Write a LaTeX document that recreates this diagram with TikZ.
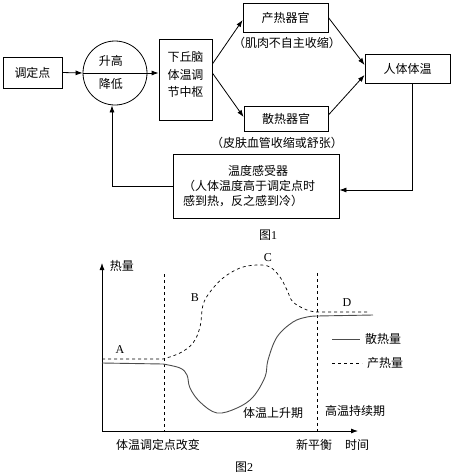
\documentclass[tikz,border=0pt]{standalone}
\usepackage{fontspec}
\setmainfont{Liberation Serif}
\newfontfamily\cjk{Noto Sans CJK SC}
\usetikzlibrary{arrows.meta}

\begin{document}
\begin{tikzpicture}[x=1pt,y=-1pt,>={Latex[length=7pt,width=5pt]},line width=0.8pt,
	font=\cjk\fontsize{12}{15}\selectfont,
	box/.style={draw,inner sep=0pt},
	txt/.style={inner sep=0pt},
	letter/.style={inner sep=0pt,font=\rmfamily\fontsize{12}{14}\selectfont},
	heat/.style={dashed,line width=0.7pt},
	loss/.style={black!70,line width=0.9pt}]
	\newcommand\xo{102};
	\newcommand\yo{431};
	\newcommand\ytop{263};
	\newcommand\xend{358};
	\newcommand\tshift{164};
	\newcommand\tbal{317};

	\useasboundingbox (0,0) rectangle (452,475);

	% figure 1
	\node[box,minimum width=59,minimum height=31] (setpt) at (32.5,72.5) {调定点};
	\node[draw,circle,inner sep=0pt,minimum size=64] (cmp) at (115,73) {};
	\node[txt] (up) at (111,61) {升高};
	\node[txt] (down) at (111,84) {降低};
	\node[box,minimum width=53,minimum height=81] (hypo) at (185.5,79.5) {};
	\node[txt,align=left,font=\cjk\fontsize{12}{17.5}\selectfont] (hypotxt) at (185.5,74.5)
		{下丘脑\\体温调\\节中枢};
	\node[box,minimum width=85,minimum height=29] (prod) at (285.5,17.5) {产热器官};
	\node[box,minimum width=84,minimum height=25] (diss) at (286,118.5) {散热器官};
	\node[box,minimum width=85,minimum height=29] (body) at (407.5,68.5) {人体体温};
	\node[draw,minimum width=166,minimum height=64,inner xsep=10,text width=146,align=left]
		(sens) at (256,186) {\hspace*{45pt}温度感受器\\（人体温度高于调定点时\\感到热，反之感到冷）};
	\node[txt] (musc) at (287,43) {（肌肉不自主收缩）};
	\node[txt] (skin) at (277,143) {（皮肤血管收缩或舒张）};
	\node[txt] (fig1) at (268,235) {图{\rmfamily 1}};

	\draw[->] (setpt.east) -- (cmp.west);
	\draw[->] (cmp.west) -- (cmp.west -| hypo.west);
	\draw[->] ([yshift=15.5]hypo.east) -- ([yshift=-2.5]prod.west);
	\draw[->] ([yshift=6.5]hypo.east) -- ([yshift=1.5]diss.west);
	\draw[->] (prod.east) -- ([yshift=3.5]body.west);
	\draw[->] ([yshift=3.5]diss.east) -- ([yshift=-6.5]body.west);
	\draw[->] ([xshift=4.5]body.south) |- ([yshift=-4]sens.east);
	\draw[->] (sens.west) -| ([xshift=-3]cmp.south);

	% figure 2
	\draw[->] (\xo,\yo) -- (\xo,\ytop);
	\draw[->] (\xo,\yo) -- (\xend,\yo);
	\draw[dashed] (\tshift,274) -- (\tshift,\yo);
	\draw[dashed] (\tbal,273) -- (\tbal,\yo);

	\draw[heat] (\xo,359) -- plot[smooth,tension=0.6] coordinates {(163,359) (180,353) (193,343)
		(200,327) (203,305) (210,292) (223,278) (240,268) (257,265) (270,267) (280,277)
		(287,290) (293,302) (307,310) (317,312)} -- (370,312);
	\draw[loss] (\xo,363) -- plot[smooth,tension=0.6] coordinates {(163,364) (180,368) (187,375)
		(190,388) (200,402) (217,413) (237,408) (253,397) (265,377) (268,360) (277,337)
		(293,322) (307,317) (317,316)} -- (373,315);

	\node[txt] (ylab) at (122,266) {热量};
	\node[letter] (pa) at (120,350) {A};
	\node[letter] (pb) at (195,298) {B};
	\node[letter] (pc) at (268,258) {C};
	\node[letter] (pd) at (347,303) {D};

	\draw[loss] (332,339) -- (360,339);
	\node[txt] (klos) at (383,339) {散热量};
	\draw[heat] (332,363) -- (362,363);
	\node[txt] (kpro) at (385,363) {产热量};

	\node[txt] (rise) at (273,413) {体温上升期};
	\node[txt] (keep) at (355,411) {高温持续期};
	\node[txt] (shift) at (158,445) {体温调定点改变};
	\node[txt] (bal) at (314,445) {新平衡};
	\node[txt] (xlab) at (357,445) {时间};
	\node[txt] (fig2) at (244,467) {图{\rmfamily 2}};
\end{tikzpicture}
\end{document}
